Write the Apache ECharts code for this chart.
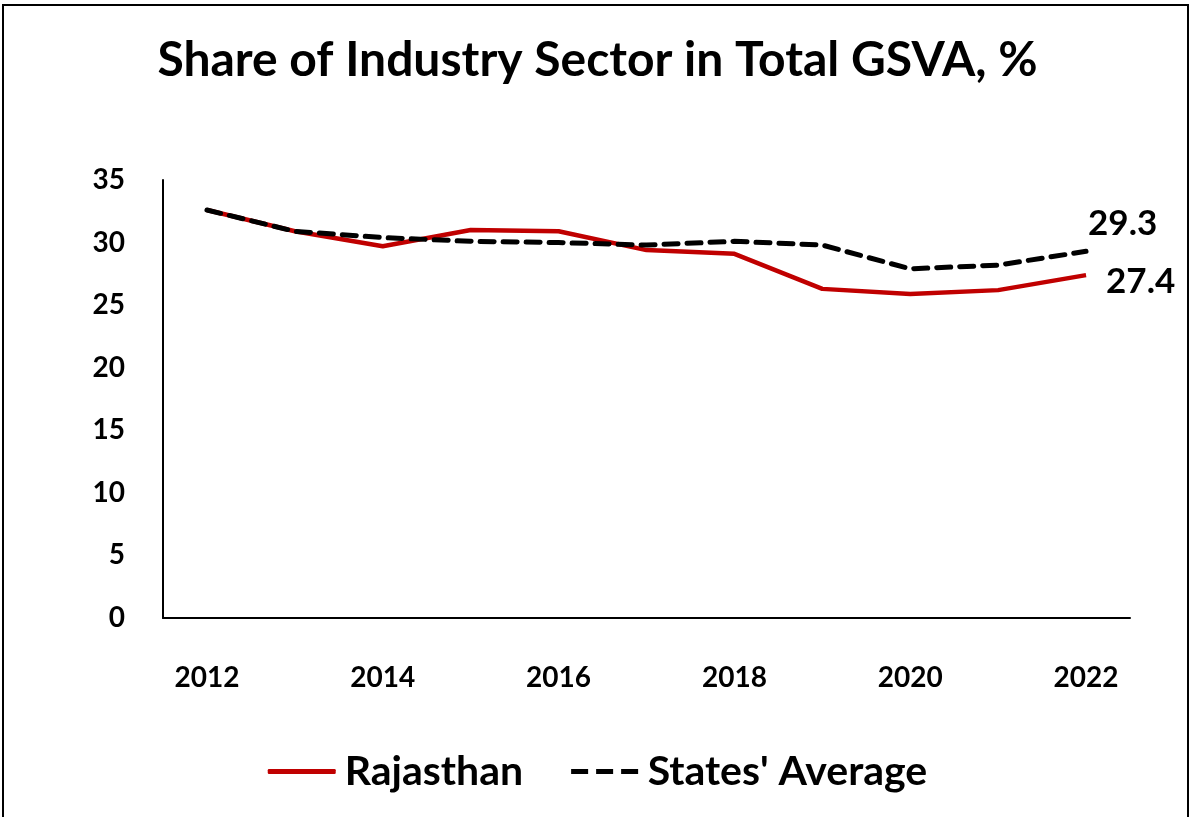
<!DOCTYPE html>
<html>
<head>
<meta charset="utf-8">
<script src="https://cdn.jsdelivr.net/npm/echarts@6/dist/echarts.min.js"></script>
<style>
  html, body { margin: 0; padding: 0; background: #fff; }
  #chart { width: 1195px; height: 817px; }
</style>
</head>
<body>
<div id="chart"></div>
<script>
const years = ['2012', '2013', '2014', '2015', '2016', '2017', '2018', '2019', '2020', '2021', '2022'];
const rajasthan = [32.6, 30.9, 29.7, 31.0, 30.9, 29.4, 29.1, 26.3, 25.9, 26.2, 27.4];
const statesAvg = [32.6, 30.9, 30.4, 30.1, 30.0, 29.8, 30.1, 29.8, 27.9, 28.2, 29.3];

const font = 'Lato, "Open Sans", sans-serif';
const labelText = { fontFamily: font, fontSize: 35, fontWeight: 'bold', color: '#000' };

const chart = echarts.init(document.getElementById('chart'));

chart.setOption({
    animation: false,
    title: {
        text: 'Share of Industry Sector in Total GSVA, %',
        left: 'center',
        top: 32,
        textStyle: { fontFamily: font, fontSize: 48, fontWeight: 'bold', color: '#000' }
    },
    legend: {
        bottom: 20,
        left: 'center',
        itemWidth: 68,
        itemHeight: 5,
        itemGap: 48,
        textStyle: { fontFamily: font, fontSize: 41, fontWeight: 'bold', color: '#000', padding: [0, 0, 0, 4] },
        data: [
            { name: 'Rajasthan', icon: 'roundRect' },
            { name: "States' Average", icon: 'path://M0,0h17v5h-17z M25,0h17v5h-17z M50,0h17v5h-17z' }
        ]
    },
    graphic: [{
        type: 'rect',
        shape: { x: 3, y: 5, width: 1185, height: 840 },
        style: { fill: 'none', stroke: '#000', lineWidth: 2 }
    }],
    grid: { left: 163, right: 65, top: 180, bottom: 199 },
    xAxis: {
        type: 'category',
        data: years,
        boundaryGap: true,
        axisLine: { lineStyle: { color: '#000', width: 2 } },
        axisTick: { show: false },
        axisLabel: {
            interval: 1, margin: 46,
            fontFamily: font, fontSize: 28, fontWeight: 'bold', color: '#000'
        }
    },
    yAxis: {
        type: 'value',
        min: 0, max: 35, interval: 5,
        splitLine: { show: false },
        axisLine: { show: true, lineStyle: { color: '#000', width: 2 } },
        axisTick: { show: false },
        axisLabel: {
            margin: 38,
            fontFamily: font, fontSize: 28, fontWeight: 'bold', color: '#000'
        }
    },
    series: [
        {
            name: 'Rajasthan',
            type: 'line',
            data: rajasthan,
            symbol: 'none',
            color: '#c00000',
            lineStyle: { width: 4.5 },
            endLabel: Object.assign({ show: true, distance: 20, offset: [0, 7] }, labelText),
            z: 2
        },
        {
            name: "States' Average",
            type: 'line',
            data: statesAvg,
            symbol: 'none',
            color: '#000',
            lineStyle: { width: 5, type: [14, 9], cap: 'round' },
            endLabel: Object.assign({ show: true, distance: 2, offset: [0, -28] }, labelText),
            z: 3
        }
    ]
});

window.addEventListener('resize', () => chart.resize());
</script>
</body>
</html>
